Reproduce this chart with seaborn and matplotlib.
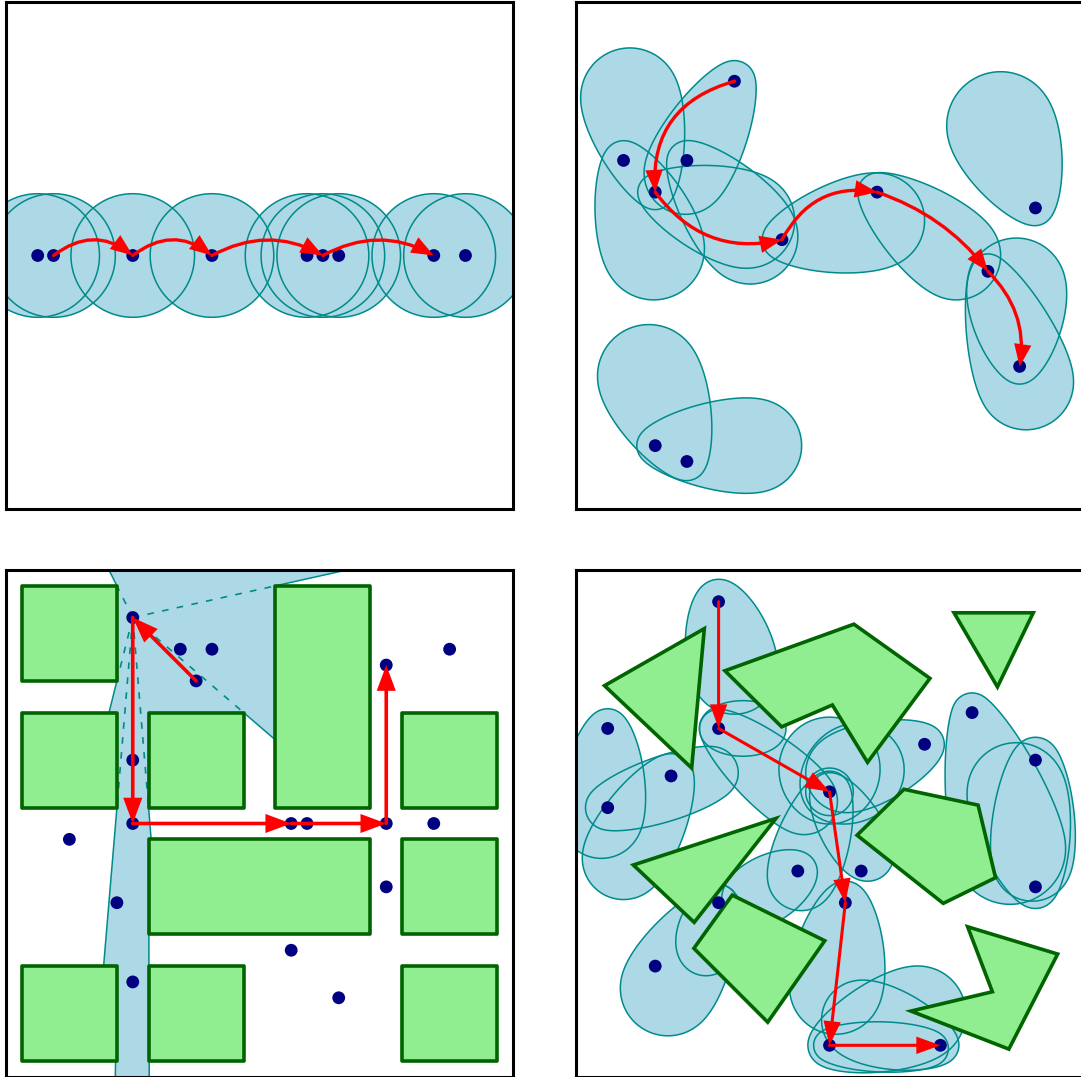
import numpy as np
import matplotlib
matplotlib.use("Agg")
import matplotlib.pyplot as plt
import seaborn as sns
from matplotlib.patches import Polygon, Rectangle, FancyArrowPatch, ArrowStyle

sns.set_style("white")

# ---------------- data ----------------
# panel 1 : points on a line, circular regions, curved path
p1_x = [1.0, 1.5, 4.0, 6.5, 9.5, 10.0, 10.5, 13.5, 14.5]
p1_y = [8.0] * 9
p1_radius = 1.95
p1_path_x = [1.5, 4.0, 6.5, 10.0, 13.5]
p1_path_y = [8.0, 8.0, 8.0, 8.0, 8.0]
p1_rad = [-0.38, -0.38, -0.27, -0.27]

# panel 2 : scattered points, teardrop regions, curved path
p2_x = [5.0, 1.5, 3.5, 2.5, 6.5, 9.5, 14.5, 13.0, 14.0, 2.5, 3.5]
p2_y = [13.5, 11.0, 11.0, 10.0, 8.5, 10.0, 9.5, 7.5, 4.5, 2.0, 1.5]
# teardrops: anchor (x, y, r0) and far end (x, y, r1)
p2_ax = [2.5, 5.0, 1.5, 3.5, 2.5, 6.5, 9.5, 14.5, 14.0, 13.0, 3.5, 2.5]
p2_ay = [10.0, 13.5, 11.0, 11.0, 10.0, 8.5, 10.0, 9.5, 4.5, 7.5, 1.5, 2.0]
p2_r0 = [0.55, 0.65, 0.62, 0.62, 0.55, 0.62, 0.6, 0.55, 0.55, 0.55, 0.6, 0.58]
p2_fx = [1.7, 3.45, 2.45, 5.5, 5.4, 9.5, 12.0, 13.4, 13.9, 14.2, 2.3, 5.65]
p2_fy = [13.0, 10.6, 8.2, 8.6, 9.1, 9.1, 8.0, 12.1, 7.0, 4.0, 4.2, 2.0]
p2_r1 = [1.55, 1.3, 1.6, 1.5, 1.5, 1.5, 1.4, 1.7, 1.55, 1.5, 1.62, 1.47]
p2_path_x = [5.0, 2.5, 6.5, 9.5, 13.0, 14.0]
p2_path_y = [13.5, 10.0, 8.5, 10.0, 7.5, 4.5]
p2_rad = [0.4, 0.32, -0.35, -0.15, -0.25]

# panel 3 : grid of obstacles, visibility region, straight path
p3_x = [4.0, 5.5, 6.5, 6.0, 12.0, 14.0, 4.0, 4.0, 2.0, 9.0, 9.5, 12.0, 13.5, 12.0, 3.5, 9.0, 4.0, 10.5]
p3_y = [14.5, 13.5, 13.5, 12.5, 13.0, 13.5, 10.0, 8.0, 7.5, 8.0, 8.0, 8.0, 8.0, 6.0, 5.5, 4.0, 3.0, 2.5]
rect_x = [0.5, 0.5, 4.5, 8.5, 12.5, 4.5, 12.5, 0.5, 4.5, 12.5]
rect_y = [12.5, 8.5, 8.5, 8.5, 8.5, 4.5, 4.5, 0.5, 0.5, 0.5]
rect_w = [3, 3, 3, 3, 3, 7, 3, 3, 3, 3]
rect_h = [3, 3, 3, 7, 3, 3, 3, 3, 3, 3]
vis_x = [3.25, 10.75, 8.5, 8.5, 7.5, 4.5, 4.5, 4.58, 4.5, 4.52, 3.45, 3.5, 3.08, 3.5, 3.5, 3.25, 3.5, 3.5]
vis_y = [16.0, 16.0, 15.5, 10.64, 11.5, 11.5, 8.5, 7.5, 7.5, 0.0, 0.0, 3.5, 3.5, 8.5, 11.5, 11.5, 12.5, 15.5]
view_x, view_y = 4.0, 14.5
ray_x = [3.5, 8.5, 7.5, 3.5, 3.5, 4.5]
ray_y = [15.5, 15.5, 11.5, 12.5, 8.5, 8.5]
p3_path_x = [6.0, 4.0, 4.0, 9.0, 12.0, 12.0]
p3_path_y = [12.5, 14.5, 8.0, 8.0, 8.0, 13.0]

# panel 4 : polygonal obstacles, teardrop regions, straight path
p4_x = [4.5, 4.5, 1.0, 3.0, 1.0, 8.0, 11.0, 12.5, 14.5, 14.5, 7.0, 9.0, 4.5, 8.5, 2.5, 8.0, 11.5]
p4_y = [15.0, 11.0, 11.0, 9.5, 8.5, 9.0, 10.5, 11.5, 10.0, 6.0, 6.5, 6.5, 5.5, 5.5, 3.5, 1.0, 1.0]
p4_ax = [4.5, 4.5, 4.5, 8.0, 8.0, 8.0, 11.0, 8.0, 8.0, 4.5, 4.5, 7.0, 8.5, 8.0, 11.5, 8.0, 12.5, 14.5, 14.5, 1.0, 1.0, 3.0]
p4_ay = [15.0, 11.0, 11.0, 9.0, 9.0, 9.0, 10.5, 9.0, 9.0, 5.5, 5.5, 6.5, 5.5, 1.0, 1.0, 1.0, 11.5, 6.0, 10.0, 11.0, 8.5, 9.5]
p4_r0 = [0.7, 0.6, 0.6, 0.75, 0.75, 0.75, 0.62, 0.65, 0.6, 0.58, 0.55, 0.6, 0.68, 0.68, 0.58, 0.5, 0.62, 0.68, 0.72, 0.62, 0.7, 0.7]
p4_fx = [5.0, 6.0, 7.2, 8.0, 8.9, 8.0, 8.5, 7.1, 9.2, 2.9, 4.1, 5.5, 8.2, 10.8, 9.0, 11.2, 13.7, 13.9, 14.4, 0.8, 4.3, 1.5]
p4_fy = [12.8, 11.0, 8.7, 9.8, 9.7, 9.0, 9.6, 6.3, 7.0, 2.8, 4.1, 5.6, 2.8, 2.0, 1.8, 0.9, 7.2, 9.0, 6.8, 8.2, 9.6, 6.9]
p4_r1 = [1.35, 0.62, 1.05, 1.55, 1.45, 0.75, 1.25, 1.05, 0.82, 1.5, 0.9, 0.9, 1.45, 1.5, 1.25, 0.55, 1.75, 1.55, 1.25, 1.3, 0.82, 1.3]
obst_x = [
    [0.9, 4.05, 3.65],
    [4.70, 8.77, 11.17, 9.20, 8.09, 6.49],
    [11.93, 14.43, 13.30],
    [1.81, 6.31, 3.73],
    [8.87, 10.35, 12.69, 13.24, 11.59],
    [3.72, 4.93, 7.85, 6.05],
    [12.36, 15.20, 13.66, 10.57, 13.14],
]
obst_y = [
    [12.35, 14.15, 9.75],
    [12.82, 14.29, 12.58, 9.93, 11.74, 11.05],
    [14.65, 14.65, 12.31],
    [6.69, 8.16, 4.88],
    [7.63, 9.08, 8.58, 6.29, 5.48],
    [4.06, 5.74, 4.30, 1.73],
    [4.74, 3.88, 0.88, 2.08, 2.69],
]
p4_path_x = [4.5, 4.5, 8.0, 8.5, 8.0, 11.5]
p4_path_y = [15.0, 11.0, 9.0, 5.5, 1.0, 1.0]

# ---------------- style ----------------
BLUE = "#ADD8E6"
TEAL = "#008B8B"
GREEN = "#90EE90"
DGREEN = "#006400"
NAVY = "#000080"
RED = "#FF0000"

W, H = 1081, 1077
fig = plt.figure(figsize=(W / 100, H / 100), dpi=100)


def make_ax(x0, ytop):
    ax = fig.add_axes([x0 / W, (H - ytop - 507) / H, 507 / W, 507 / H])
    ax.set_xlim(0, 16)
    ax.set_ylim(0, 16)
    ax.set_xticks([])
    ax.set_yticks([])
    for s in ax.spines.values():
        s.set_visible(True)
        s.set_color("black")
        s.set_linewidth(2.2)
        s.set_zorder(10)
    return ax


def teardrop(x0, y0, r0, x1, y1, r1, beta=2.6, n=360):
    """Smooth convex egg: soft-max of the support functions of two circles."""
    th = np.linspace(0, 2 * np.pi, n, endpoint=False)
    nx, ny = np.cos(th), np.sin(th)
    if np.hypot(x1 - x0, y1 - y0) < 1e-6:
        r = max(r0, r1)
        return np.column_stack([x0 + r * nx, y0 + r * ny])
    h0 = x0 * nx + y0 * ny + r0
    h1 = x1 * nx + y1 * ny + r1
    d0 = -x0 * ny + y0 * nx
    d1 = -x1 * ny + y1 * nx
    m = np.maximum(h0, h1)
    e0, e1 = np.exp(beta * (h0 - m)), np.exp(beta * (h1 - m))
    h = m + np.log(e0 + e1) / beta
    w0, w1 = e0 / (e0 + e1), e1 / (e0 + e1)
    dh = w0 * d0 + w1 * d1
    x = h * nx - dh * ny
    y = h * ny + dh * nx
    return np.column_stack([x, y])


def draw_regions(ax, shapes):
    for s in shapes:
        ax.add_patch(Polygon(s, closed=True, fc=BLUE, ec="none", zorder=1))
    for s in shapes:
        ax.add_patch(Polygon(s, closed=True, fc="none", ec=TEAL, lw=1.1, zorder=2))


def draw_path(ax, xs, ys, rads=None, hl=1.3, hw=0.47, lw=2.4):
    style = ArrowStyle("-|>", head_length=hl, head_width=hw)
    for i in range(len(xs) - 1):
        rad = 0.0 if rads is None else rads[i]
        ar = FancyArrowPatch((xs[i], ys[i]), (xs[i + 1], ys[i + 1]),
                             arrowstyle=style, connectionstyle=f"arc3,rad={rad}",
                             mutation_scale=10, lw=lw, color=RED,
                             shrinkA=0, shrinkB=0, zorder=6, joinstyle="miter")
        ax.add_patch(ar)


def draw_points(ax, xs, ys):
    sns.scatterplot(x=xs, y=ys, ax=ax, s=85, color=NAVY, edgecolor="none",
                    linewidth=0, zorder=5, legend=False)


# ---------------- panel 1 ----------------
ax1 = make_ax(6, 2)
circles = []
for x, y in zip(p1_x, p1_y):
    t = np.linspace(0, 2 * np.pi, 240)
    circles.append(np.column_stack([x + p1_radius * np.cos(t), y + p1_radius * np.sin(t)]))
draw_regions(ax1, circles)
draw_points(ax1, p1_x, p1_y)
draw_path(ax1, p1_path_x, p1_path_y, p1_rad, hl=1.15, hw=0.45)

# ---------------- panel 2 ----------------
ax2 = make_ax(576, 2)
shapes2 = [teardrop(p2_ax[i], p2_ay[i], p2_r0[i], p2_fx[i], p2_fy[i], p2_r1[i])
           for i in range(len(p2_ax))]
draw_regions(ax2, shapes2)
draw_points(ax2, p2_x, p2_y)
draw_path(ax2, p2_path_x, p2_path_y, p2_rad, hl=1.15, hw=0.45)

# ---------------- panel 3 ----------------
ax3 = make_ax(6, 570)
ax3.add_patch(Polygon(np.column_stack([vis_x, vis_y]), closed=True, fc=BLUE,
                      ec=TEAL, lw=1.1, zorder=1))
for rx, ry in zip(ray_x, ray_y):
    ax3.plot([view_x, rx], [view_y, ry], color=TEAL, lw=1.2, ls=(0, (4, 5)), zorder=2)
for x, y, w, h in zip(rect_x, rect_y, rect_w, rect_h):
    ax3.add_patch(Rectangle((x, y), w, h, fc=GREEN, ec=DGREEN, lw=2.6, zorder=3,
                            joinstyle="round"))
draw_points(ax3, p3_x, p3_y)
draw_path(ax3, p3_path_x, p3_path_y, None, hl=1.35, hw=0.5, lw=2.6)

# ---------------- panel 4 ----------------
ax4 = make_ax(576, 570)
shapes4 = [teardrop(p4_ax[i], p4_ay[i], p4_r0[i], p4_fx[i], p4_fy[i], p4_r1[i])
           for i in range(len(p4_ax))]
draw_regions(ax4, shapes4)
for ox, oy in zip(obst_x, obst_y):
    ax4.add_patch(Polygon(np.column_stack([ox, oy]), closed=True, fc=GREEN,
                          ec=DGREEN, lw=2.6, zorder=3))
draw_points(ax4, p4_x, p4_y)
draw_path(ax4, p4_path_x, p4_path_y, None, hl=1.3, hw=0.47, lw=2.2)

fig.savefig("out.png", dpi=100)
